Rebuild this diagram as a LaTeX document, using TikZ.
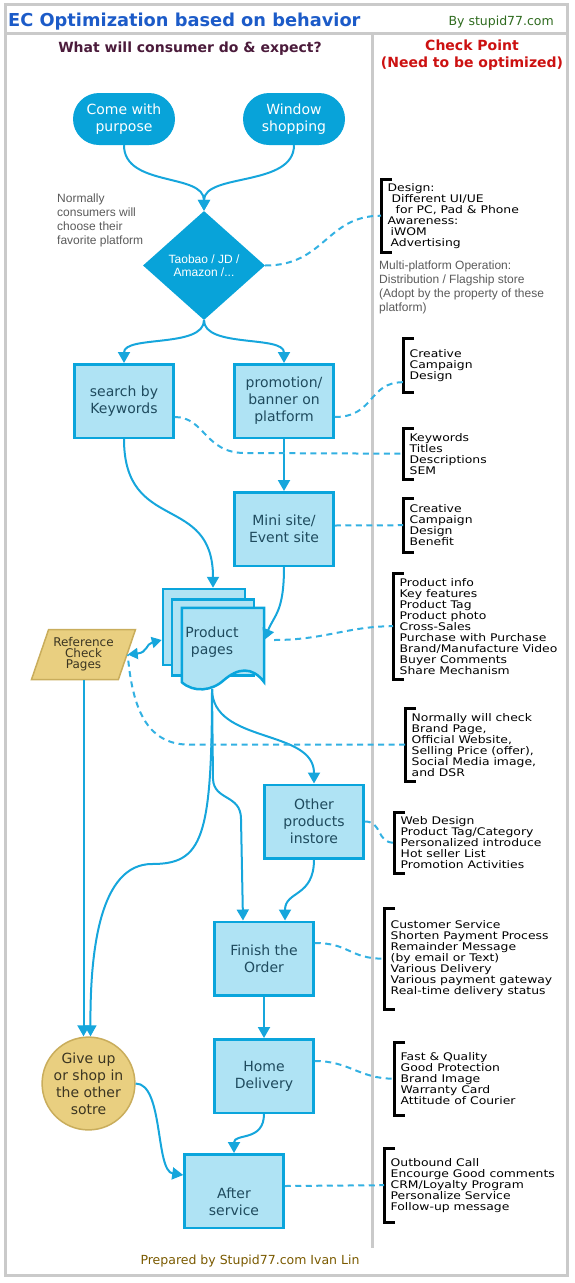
\documentclass[tikz,border=0pt]{standalone}
\usepackage{fontspec}
\setmainfont{DejaVu Sans}
\newfontfamily\notefont[FakeStretch=1.18]{DejaVu Sans}
\newfontfamily\grayfont{Liberation Sans}
\usetikzlibrary{shapes.geometric,arrows.meta}

\definecolor{flowblue}{HTML}{08A3D9}
\definecolor{boxfill}{HTML}{AFE3F4}
\definecolor{boxline}{HTML}{0AA5DC}
\definecolor{boxtxt}{HTML}{1F4B5E}
\definecolor{goldfill}{HTML}{E9CF80}
\definecolor{goldline}{HTML}{C9AD5C}
\definecolor{goldtxt}{HTML}{3B3522}
\definecolor{framegray}{HTML}{CACACA}
\definecolor{linkblue}{HTML}{16A6DC}
\definecolor{dashblue}{HTML}{33B1E2}
\definecolor{titleblue}{HTML}{1C5BC8}
\definecolor{bygreen}{HTML}{2F6B1F}
\definecolor{headplum}{HTML}{4B1B3B}
\definecolor{checkred}{HTML}{CC1111}
\definecolor{notegray}{HTML}{5A5A5A}
\definecolor{footbrown}{HTML}{7A5A00}

\tikzset{
  frameline/.style={draw=framegray, line width=3pt},
  pill/.style={rectangle, rounded corners=26pt, fill=flowblue, text=white,
    minimum width=102pt, minimum height=52pt, align=center,
    font=\fontsize{14}{17}\selectfont},
  decision/.style={diamond, fill=flowblue, text=white, minimum width=122pt,
    minimum height=109pt, inner sep=0pt, align=center,
    font=\grayfont\fontsize{12}{13}\selectfont},
  stepbox/.style={rectangle, draw=boxline, line width=2.5pt, fill=boxfill,
    text=boxtxt, minimum width=99pt, minimum height=73.5pt, align=center,
    font=\fontsize{14}{17}\selectfont},
  pagebox/.style={rectangle, draw=boxline, line width=2.5pt, fill=boxfill,
    minimum width=82pt, minimum height=76pt},
  refbox/.style={trapezium, trapezium left angle=63, trapezium right angle=117,
    trapezium stretches body=true, draw=goldline, line width=1.5pt, fill=goldfill,
    text=goldtxt, minimum width=104pt, minimum height=50pt, inner sep=0pt,
    align=center, font=\fontsize{12}{11}\selectfont},
  quitbox/.style={circle, draw=goldline, line width=1.5pt, fill=goldfill,
    text=goldtxt, minimum size=89pt, inner sep=0pt, align=center,
    font=\fontsize{14}{17}\selectfont},
  chk/.style={anchor=north west, inner xsep=6.5pt, inner ysep=0pt, align=left,
    text=black, font=\notefont\fontsize{10.5}{11}\selectfont},
  brack/.style={draw=black, line width=3pt},
  note/.style={anchor=north west, inner sep=0pt, align=left, text=notegray,
    font=\grayfont\fontsize{12}{14}\selectfont},
  flow/.style={draw=linkblue, line width=2pt, -{Triangle[width=12pt,length=11pt]}},
  dashlink/.style={draw=dashblue, line width=2pt, dash pattern=on 6pt off 4.5pt}
}

\begin{document}
\begin{tikzpicture}[x=1pt,y=-1pt]
\useasboundingbox (0,0) rectangle (574,1283);
% frame: outer box, title bar, column rule
\draw[frameline] (5.5,4.5) rectangle (567,1275);
\draw[frameline] (5.5,33.5) -- (567,33.5);
\draw[frameline] (372,33.5) -- (372,1248);

\node[anchor=base west, inner sep=0pt, text=titleblue, font=\bfseries\fontsize{17.8}{20}\selectfont] (title) at (8,26) {EC Optimization based on behavior};
\node[anchor=base east, inner sep=0pt, text=bygreen, font=\fontsize{12.5}{14}\selectfont] (byline) at (554,25) {By stupid77.com};
\node[anchor=base, inner sep=0pt, text=headplum, font=\bfseries\fontsize{14}{16}\selectfont] (lefthead) at (190,52) {What will consumer do \& expect?};
\node[inner sep=0pt, text=checkred, align=center, font=\bfseries\fontsize{14}{16.5}\selectfont] (righthead) at (472,55) {Check Point\\(Need to be optimized)};
\node[inner sep=0pt, text=footbrown, font=\fontsize{12.5}{14}\selectfont] (footer) at (250,1261) {Prepared by Stupid77.com Ivan Lin};

% flow nodes (pixel positions of the reference)
\node[pill] (purpose) at (124,119) {Come with\\purpose};
\node[pill] (window) at (294,119) {Window\\shopping};
\node[decision] (dia) at (204,265.5) {Taobao / JD /\\Amazon /...};
\node[note] (platnote) at (57,194) {Normally\\consumers will\\choose their\\favorite platform};
\node[note] (multinote) at (379,261) {Multi-platform Operation:\\Distribution / Flagship store\\(Adopt by the property of these\\platform)};
\node[stepbox] (search) at (124,401) {search by\\Keywords};
\node[stepbox] (promo) at (284,401) {promotion/\\banner on\\platform};
\node[stepbox] (mini) at (284,529) {Mini site/\\Event site};

% product pages: two back sheets + front sheet with wavy foot
\node[pagebox] (pg1) at (204,627) {};
\node[pagebox] (pg2) at (213,637.5) {};
\node[minimum width=82pt, minimum height=74pt, inner sep=0pt] (prod) at (223,645) {};
\draw[draw=boxline, line width=2.5pt, fill=boxfill] (prod.north west) -- (prod.north east) -- (prod.south east)
  .. controls (252,666) and (238,668) .. (224,680) .. controls (212,691) and (194,693) .. (prod.south west) -- cycle;
\node[text=boxtxt, align=center, font=\fontsize{14}{17}\selectfont] (prodlbl) at (212,642) {Product\\pages};
\coordinate (prodfoot) at (212,689);

\node[refbox] (ref) at (83.5,654.5) {Reference\\Check\\Pages};
\node[stepbox] (other) at (314,821.5) {Other\\products\\instore};
\node[stepbox] (finish) at (264,958.5) {Finish the\\Order};
\node[quitbox] (giveup) at (88.5,1083.5) {Give up\\or shop in\\the other\\sotre};
\node[stepbox] (delivery) at (264,1076) {Home\\Delivery};
% text sits low in this box
\node[stepbox] (after) at (234,1191) {\mbox{}\\[15pt]After\\service};

% check points: anchor = top of the bracket, min height = bracket length
\node[chk, minimum height=73pt] (chk1) at (381,179) {Design:\\\hspace*{4pt}Different UI/UE\\\hspace*{8pt}for PC, Pad \& Phone\\Awareness:\\\hspace*{3pt}iWOM\\\hspace*{3pt}Advertising};
\node[chk, minimum height=54pt] (chk2) at (403,338) {Creative\\Campaign\\Design};
\node[chk, minimum height=51pt] (chk3) at (403,428) {Keywords\\Titles\\Descriptions\\SEM};
\node[chk, minimum height=54pt] (chk4) at (403,498) {Creative\\Campaign\\Design\\Benefit};
\node[chk, minimum height=106pt] (chk5) at (393,573) {Product info\\Key features\\Product Tag\\Product photo\\Cross-Sales\\Purchase with Purchase\\Brand/Manufacture Video\\Buyer Comments\\Share Mechanism};
\node[chk, minimum height=73pt] (chk6) at (405,708) {Normally will check\\Brand Page,\\Official Website,\\Selling Price (offer),\\Social Media image,\\and DSR};
\node[chk, minimum height=61pt] (chk7) at (394,812) {Web Design\\Product Tag/Category\\Personalized introduce\\Hot seller List\\Promotion Activities};
\node[chk, minimum height=101pt] (chk8) at (384,908) {Customer Service\\Shorten Payment Process\\Remainder Message\\(by email or Text)\\Various Delivery\\Various payment gateway\\Real-time delivery status};
\node[chk, minimum height=73pt] (chk9) at (394,1042) {Fast \& Quality\\Good Protection\\Brand Image\\Warranty Card\\Attitude of Courier};
\node[chk, minimum height=74pt] (chk10) at (384,1148) {Outbound Call\\Encourge Good comments\\CRM/Loyalty Program\\Personalize Service\\Follow-up message};
\foreach \c in {1,...,10}
  \draw[brack] ([xshift=11pt]chk\c.north west) -- (chk\c.north west) -- (chk\c.south west) -- ([xshift=11pt]chk\c.south west);

% flow arrows
\draw[flow] (purpose.south) .. controls +(0,42) and +(0,-38) .. (dia.north);
\draw[flow] (window.south) .. controls +(0,42) and +(0,-38) .. (dia.north);
\draw[flow] (dia.south) .. controls +(0,28) and +(0,-28) .. (search.north);
\draw[flow] (dia.south) .. controls +(0,28) and +(0,-28) .. (promo.north);
\draw[flow] (promo.south) -- (mini.north);
\draw[flow] (search.south) .. controls +(0,95) and +(0,-95) .. ([xshift=9pt]pg1.north);
\draw[flow] (mini.south) .. controls +(0,45) and +(10,-25) .. ([yshift=5pt]prod.east);
\draw[flow, {Triangle[width=11pt,length=10pt]}-{Triangle[width=11pt,length=10pt]}] (ref.east) .. controls +(20,-2) and +(-16,4) .. ([yshift=-13pt]pg1.west);
\draw[flow] (prodfoot) .. controls +(0,55) and +(0,-55) .. (other.north);
\draw[flow] (prodfoot) -- ++(1,90) .. controls +(1,22) and +(0,-25) .. ++(28,40) -- ([xshift=-21pt]finish.north);
\draw[flow] (prodfoot) .. controls +(0,150) and +(50,0) .. (152,864) .. controls (100,864) and (90,950) .. ([xshift=2pt]giveup.north);
\draw[flow] (ref.south) -- (ref.south |- giveup.north);
\draw[flow] (other.south) .. controls +(0,38) and +(0,-30) .. ([xshift=21pt]finish.north);
\draw[flow] (finish.south) -- (delivery.north);
\draw[flow] (delivery.south) .. controls +(0,28) and +(0,-20) .. (after.north);
\draw[flow] (giveup.east) .. controls +(28,0) and +(-28,-4) .. ([yshift=16pt]after.west);

% dashed links to the check points
\draw[dashlink] (dia.east) .. controls +(60,0) and +(-55,0) .. (chk1.west);
\draw[dashlink] ([yshift=-16pt]promo.east) .. controls +(40,0) and +(-35,0) .. ([yshift=-17pt]chk2.west);
\draw[dashlink] ([yshift=-16pt]search.east) .. controls +(30,0) and +(-40,0) .. ++(70,36) -- (chk3.west);
\draw[dashlink] ([yshift=3.5pt]mini.east) -- (chk4.west);
\draw[dashlink] ([yshift=5pt,xshift=10pt]prod.east) .. controls +(50,0) and +(-45,0) .. (chk5.west);
\draw[dashlink] (chk6.west) -- ++(-215,0) .. controls +(-40,0) and +(5,60) .. (ref.east);
\draw[dashlink] (other.east) .. controls +(18,0) and +(-18,0) .. (chk7.west);
\draw[dashlink] ([yshift=15.5pt]finish.east) .. controls +(35,0) and +(-35,0) .. (chk8.west);
\draw[dashlink] ([yshift=15pt]delivery.east) .. controls +(35,0) and +(-35,0) .. (chk9.west);
\draw[dashlink] ([yshift=5pt]after.east) -- (chk10.west);
\end{tikzpicture}
\end{document}
